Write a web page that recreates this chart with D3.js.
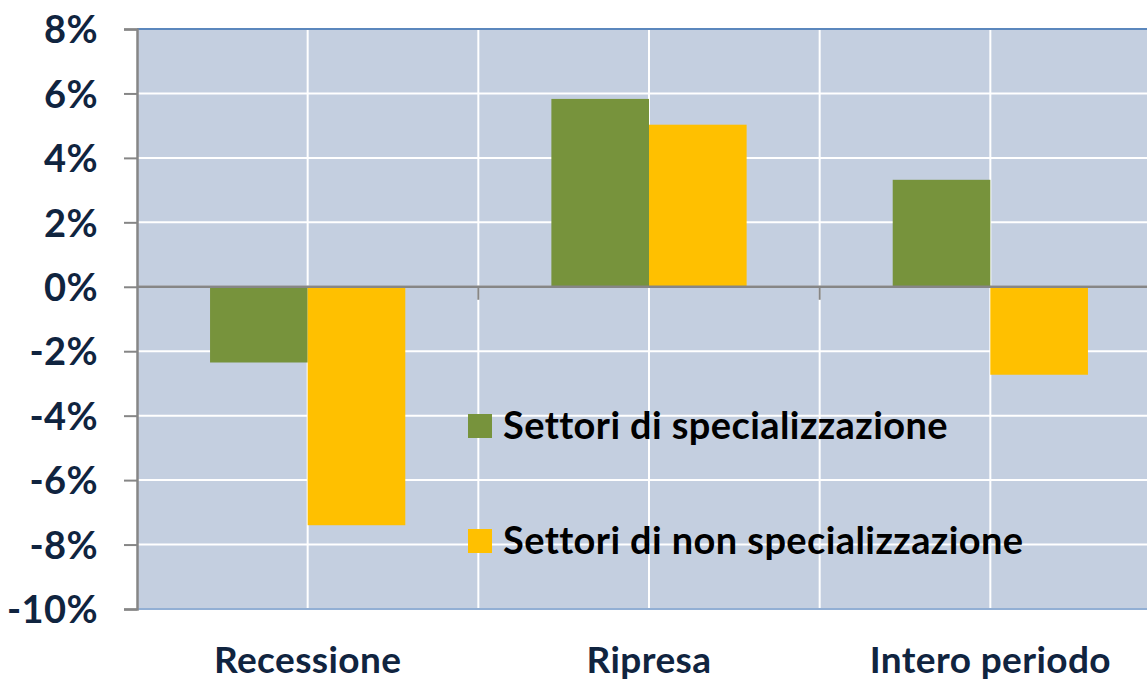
<!DOCTYPE html>
<html>
<head>
<meta charset="utf-8">
<script src="https://cdn.jsdelivr.net/npm/d3@7"></script>
<style>
  body { margin: 0; background: #fff; }
  svg { display: block; }
  text { font-family: Lato, "Open Sans", sans-serif; font-weight: bold; letter-spacing: 0.4px; }
</style>
</head>
<body>
<div id="chart"></div>
<script>
var width = 1147,
	height = 683,
	margin = {top: 29, left: 137, bottom: 74, right: -14};

var categories = ["Recessione", "Ripresa", "Intero periodo"];
var seriesNames = ["Settori di specializzazione", "Settori di non specializzazione"];
var specializzazione = [-2.35, 5.83, 3.32];
var nonSpecializzazione = [-7.4, 5.03, -2.73];
var yTicks = [8, 6, 4, 2, 0, -2, -4, -6, -8, -10];
var colors = ["#77933C", "#FFC000"];

var values = [specializzazione, nonSpecializzazione];

var svg = d3.select("#chart").append("svg")
	.attr("width", width)
	.attr("height", height);

var plotW = width - margin.left - margin.right,
	plotH = height - margin.top - margin.bottom;

var x = d3.scaleBand()
	.domain(categories)
	.range([margin.left, margin.left + plotW])
	.paddingInner(0.428)
	.paddingOuter(0.214);

var xs = d3.scaleBand()
	.domain(seriesNames)
	.range([0, x.bandwidth()]);

var y = d3.scaleLinear()
	.domain([-10, 8])
	.range([margin.top + plotH, margin.top]);

var step = x.step();

// plot background
svg.append("rect")
	.attr("x", margin.left)
	.attr("y", margin.top)
	.attr("width", plotW)
	.attr("height", plotH)
	.attr("fill", "#C4CFE0");

// horizontal gridlines
svg.append("g")
	.selectAll("line")
	.data(yTicks)
	.enter()
	.append("line")
	.attr("x1", margin.left)
	.attr("x2", margin.left + plotW)
	.attr("y1", function(d) { return y(d); })
	.attr("y2", function(d) { return y(d); })
	.attr("stroke", "#fff")
	.attr("stroke-width", 2);

// vertical gridlines, at category centres and boundaries
var vlines = d3.range(1, categories.length * 2).map(function(k) {
	return margin.left + k * step / 2;
});
svg.append("g")
	.selectAll("line")
	.data(vlines)
	.enter()
	.append("line")
	.attr("x1", function(d) { return d; })
	.attr("x2", function(d) { return d; })
	.attr("y1", margin.top)
	.attr("y2", margin.top + plotH)
	.attr("stroke", "#fff")
	.attr("stroke-width", 2);

// bars
var groups = svg.append("g")
	.selectAll("g")
	.data(seriesNames)
	.enter()
	.append("g")
	.attr("fill", function(d, i) { return colors[i]; });

groups.selectAll("rect")
	.data(function(d, i) {
		return categories.map(function(c, j) {
			return {cat: c, series: d, value: values[i][j]};
		});
	})
	.enter()
	.append("rect")
	.attr("x", function(d) { return x(d.cat) + xs(d.series); })
	.attr("width", xs.bandwidth())
	.attr("y", function(d) { return y(Math.max(0, d.value)); })
	.attr("height", function(d) { return Math.abs(y(d.value) - y(0)); });

// top and bottom border
svg.append("line")
	.attr("x1", margin.left).attr("x2", width)
	.attr("y1", margin.top).attr("y2", margin.top)
	.attr("stroke", "#5B87BD").attr("stroke-width", 2);
svg.append("line")
	.attr("x1", margin.left).attr("x2", width)
	.attr("y1", margin.top + plotH).attr("y2", margin.top + plotH)
	.attr("stroke", "#6E95C6").attr("stroke-width", 1.5);

// zero line with category boundary ticks
var xAxis = svg.append("g")
	.attr("transform", "translate(0," + y(0) + ")");
xAxis.append("line")
	.attr("x1", margin.left).attr("x2", margin.left + plotW)
	.attr("stroke", "#868686").attr("stroke-width", 2.5);
xAxis.selectAll(".tk")
	.data(d3.range(1, categories.length))
	.enter()
	.append("line")
	.attr("class", "tk")
	.attr("x1", function(k) { return margin.left + k * step; })
	.attr("x2", function(k) { return margin.left + k * step; })
	.attr("y1", 0).attr("y2", 13)
	.attr("stroke", "#868686").attr("stroke-width", 2);

// y axis
var yAxis = d3.axisLeft(y)
	.tickValues(yTicks)
	.tickSize(13)
	.tickPadding(26)
	.tickFormat(function(d) { return d + "%"; });

var ya = svg.append("g")
	.attr("transform", "translate(" + margin.left + ",0)")
	.call(yAxis);
ya.select(".domain")
	.attr("stroke", "#868686")
	.attr("stroke-width", 2.5);
ya.selectAll(".tick line")
	.attr("stroke", "#868686")
	.attr("stroke-width", 2);
ya.selectAll(".tick text")
	.attr("fill", "#10243F")
	.style("font-family", "Lato, sans-serif")
	.style("font-size", "38px")
	.attr("dy", "0.36em");

// category labels
svg.append("g")
	.selectAll("text")
	.data(categories)
	.enter()
	.append("text")
	.attr("x", function(d) { return x(d) + x.bandwidth() / 2; })
	.attr("y", 673)
	.attr("text-anchor", "middle")
	.attr("fill", "#10243F")
	.style("font-size", "37px")
	.text(function(d) { return d; });

// legend
var legend = svg.append("g")
	.attr("transform", "translate(468,414)");
var items = legend.selectAll("g")
	.data(seriesNames)
	.enter()
	.append("g")
	.attr("transform", function(d, i) { return "translate(0," + i * 115 + ")"; });
items.append("rect")
	.attr("width", 24)
	.attr("height", 24)
	.attr("fill", function(d, i) { return colors[i]; });
items.append("text")
	.attr("x", 35)
	.attr("y", 25)
	.attr("fill", "#000")
	.style("font-size", "38px")
	.text(function(d) { return d; });
</script>
</body>
</html>
